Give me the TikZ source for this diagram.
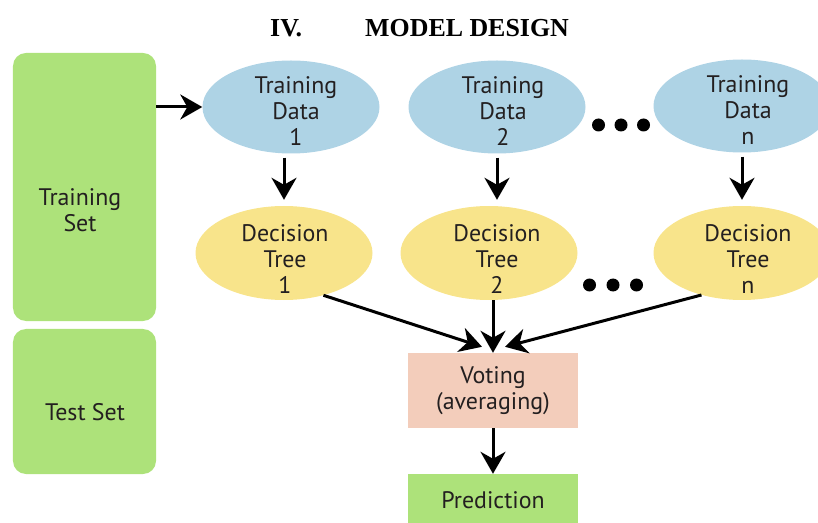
\documentclass[tikz,border=0pt]{standalone}
\usepackage{fontspec}
\setmainfont{PT Sans}
\newfontfamily\titlefont{Liberation Serif}
\usetikzlibrary{shapes.geometric,arrows.meta,calc}
\definecolor{setgreen}{HTML}{ADE27A}
\definecolor{databl}{HTML}{AED3E5}
\definecolor{treeyl}{HTML}{F8E48B}
\definecolor{votepk}{HTML}{F3CDBB}
\definecolor{ink}{HTML}{231F20}

\begin{document}
\begin{tikzpicture}[x=1bp,y=-1bp,
  lbl/.style={font=\fontsize{24}{26}\selectfont, text=ink, align=center, inner sep=0pt},
  headfont/.style={font=\titlefont\bfseries\fontsize{26}{30}\selectfont, inner sep=0pt},
  setbox/.style={fill=setgreen, rounded corners=13bp, minimum width=143bp, inner sep=0pt},
  dataell/.style={ellipse, fill=databl, minimum width=177bp, minimum height=93bp, inner sep=0pt},
  treeell/.style={ellipse, fill=treeyl, minimum width=177bp, minimum height=94bp, inner sep=0pt},
  flowbox/.style={lbl, minimum width=170bp},
  arr/.style={line width=3bp, -{Stealth[length=22bp,width=25bp,inset=7bp]}},
  dotmark/.style={circle, fill=black, minimum size=13bp, inner sep=0pt}]

\useasboundingbox (0,0) rectangle (818,523);
\clip (0,0) rectangle (818,523);

% section heading
\node[headfont, anchor=base west] (secnum) at (270,37) {IV.};
\node[headfont, anchor=base west] (sectitle) at (365,37) {MODEL DESIGN};

% data split
\node[setbox, minimum height=268bp] (trainset) at (84.5,187) {};
\node[lbl] (trainlbl) at (80,210) {Training\\Set};
\node[setbox, minimum height=145bp] (testset) at (84.5,401.5) {};
\node[lbl] (testlbl) at (85,412) {Test Set};

% bootstrap samples
\node[dataell] (td1) at (291,107) {};
\node[dataell] (td2) at (497,107) {};
\node[dataell] (tdn) at (742,106) {};
\node[lbl] (td1l) at (296,111) {Training\\Data\\1};
\node[lbl] (td2l) at (503,111) {Training\\Data\\2};
\node[lbl] (tdnl) at (748,110) {Training\\Data\\n};

% trees
\node[treeell] (dt1) at (284,253) {};
\node[treeell] (dt2) at (489,253) {};
\node[treeell] (dtn) at (742,253) {};
\node[lbl] (dt1l) at (285,259) {Decision\\Tree\\1};
\node[lbl] (dt2l) at (497,259) {Decision\\Tree\\2};
\node[lbl] (dtnl) at (748,259) {Decision\\Tree\\n};

% ellipsis dots
\node[dotmark] (ta) at (598.5,125) {};
\node[dotmark] (tb) at (621,125) {};
\node[dotmark] (tc) at (643.5,125) {};
\node[dotmark] (ua) at (589.5,285) {};
\node[dotmark] (ub) at (613,285) {};
\node[dotmark] (uc) at (636.5,285) {};

% aggregation and output
\node[flowbox, fill=votepk, minimum height=75bp] (vote) at (493,390.5) {Voting\\(averaging)};
\node[flowbox, fill=setgreen, minimum height=52bp] (pred) at (493,500) {Prediction};

% connectors
\draw[arr] (trainset.east |- td1.west) -- (td1.west);
\draw[arr, shorten <=4bp, shorten >=6bp] (td1.south -| dt1.north) -- (dt1.north);
\draw[arr, shorten <=4bp, shorten >=6bp] (td2.south) -- (td2.south |- dt2.north);
\draw[arr, shorten <=4bp, shorten >=6bp] (tdn.south) -- (tdn.south |- dtn.north);

\coordinate (tipL) at ([shift={(-11,-6)}]vote.north);
\coordinate (tipR) at ([shift={(12,-6)}]vote.north);
\draw[arr] (dt1.-47) -- (tipL);
\draw[arr] (dt2.south -| vote.north) -- (vote.north);
\draw[arr] (dtn.-134) -- (tipR);
\draw[arr] (vote.south) -- (pred.north);
\end{tikzpicture}
\end{document}
